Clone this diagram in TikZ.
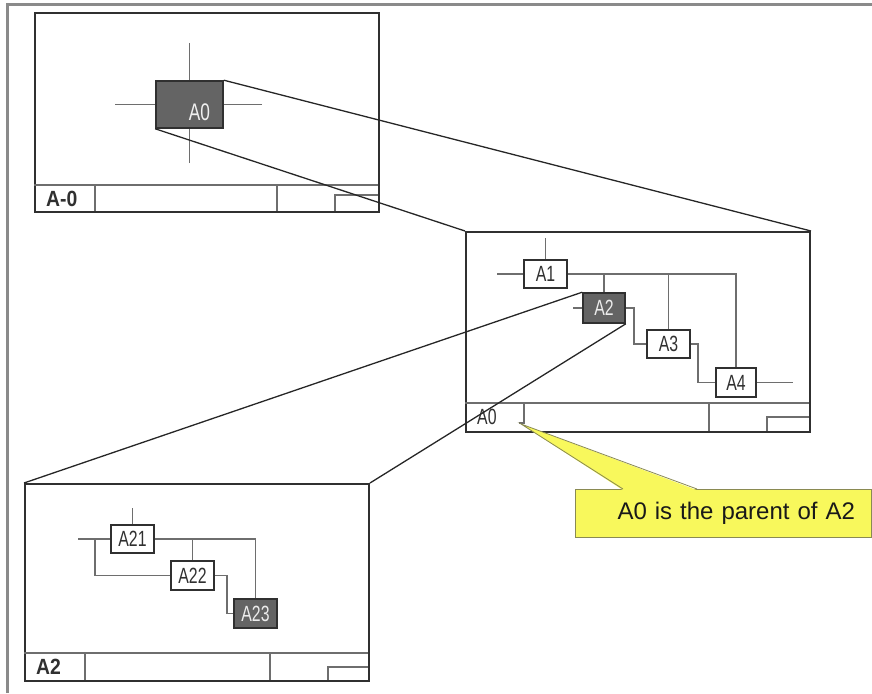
\documentclass[tikz,border=0pt]{standalone}
\usepackage{fontspec}
\setmainfont{Liberation Sans}
\newfontfamily\boxfont[FakeStretch=0.72]{Liberation Sans}
\newfontfamily\titlefont[FakeStretch=0.88]{Liberation Sans}
\usetikzlibrary{positioning,calc}

\definecolor{framegray}{HTML}{8A8A8A}
\definecolor{inkdark}{HTML}{303030}
\definecolor{linegray}{HTML}{6E6E6E}
\definecolor{actfill}{HTML}{646464}
\definecolor{notefill}{HTML}{F8F85C}
\definecolor{noteedge}{HTML}{8A8A52}

\tikzset{
  idef/sheet/.style={draw=inkdark, line width=2pt, anchor=north west, inner sep=0pt},
  idef/act/.style={draw=inkdark, line width=1.6pt, fill=white, text=inkdark, inner sep=0pt,
    minimum width=43pt, minimum height=28pt, font=\boxfont\fontsize{22}{22}\selectfont},
  idef/parent/.style={idef/act, fill=actfill, text=white!85!gray},
  idef/plabel/.style={text=white!88!gray, inner sep=0pt, font=\boxfont\fontsize{24}{24}\selectfont},
  idef/arrow/.style={draw=linegray, line width=1.4pt},
  idef/rule/.style={draw=linegray, line width=1.6pt},
  idef/zoom/.style={draw=black!85, line width=1.3pt},
  idef/title/.style={anchor=west, inner sep=0pt, text=inkdark, font=\titlefont\bfseries\fontsize{22}{22}\selectfont},
  idef/note/.style={draw=noteedge, fill=notefill, line width=0.8pt, outer sep=0pt, text=black!90,
    minimum height=48pt, text width=264pt, inner xsep=16pt, inner ysep=0pt, align=right,
    font=\fontsize{24}{28}\selectfont},
  idef/noteline/.style={draw=noteedge, line width=0.8pt}
}

\begin{document}
\begin{tikzpicture}[x=1pt, y=-1pt]
  \useasboundingbox (0,0) rectangle (872,693);
  % outer frame
  \draw[framegray, line width=3pt] (7.5,693) -- (7.5,5) -- (872,5);

  % context sheet A-0
  \node[idef/sheet, minimum width=344pt, minimum height=199pt] (sheetA0) at (34,12) {};
  \draw[idef/rule] (34,185) -- (378,185) (95,185) -- (95,211) (277,185) -- (277,211);
  \draw[idef/rule] (335,211) |- (378,195);
  \node[idef/title] at (46,198.5) {A-0};

  \node[idef/parent, minimum width=67pt, minimum height=47pt,
        label={[idef/plabel, xshift=10pt, yshift=-8pt]center:A0}] (a0) at (189.5,104.5) {};
  \coordinate (a0up) at (189.5,43);
  \coordinate (a0dn) at (189.5,163);
  \coordinate (a0lt) at (115,104.5);
  \coordinate (a0rt) at (262,104.5);
  \draw[idef/arrow] (a0up) -- (a0.north);
  \draw[idef/arrow] (a0dn) -- (a0.south);
  \draw[idef/arrow] (a0lt) -- (a0.west);
  \draw[idef/arrow] (a0rt) -- (a0.east);

  % sheet A0
  \node[idef/sheet, minimum width=344pt, minimum height=200pt] (sheetA1) at (465,231) {};
  \draw[idef/rule] (465,403) -- (809,403) (709,403) -- (709,431);
  \draw[idef/rule] (767,431) |- (809,417);
  \draw[idef/rule] (524,403) -- (524,423) -- (519,423);
  \node[idef/title, font=\boxfont\fontsize{22}{22}\selectfont] at (477,417) {A0};

  \node[idef/act] (a1) at (545.5,274) {A1};
  \node[idef/parent, minimum width=42pt, minimum height=30pt] (a2) at (604,308) {A2};
  \node[idef/act] (a3) at (668.5,344) {A3};
  \node[idef/act, minimum width=40pt, minimum height=29pt] (a4) at (736,382.5) {A4};

  \coordinate (a1ctl) at (545.5,238);
  \coordinate (a1in) at (497,274);
  \coordinate (a2in) at (573,308);
  \coordinate (a4out) at (793,382.5);
  \draw[idef/arrow] (a1ctl) -- (a1.north);
  \draw[idef/arrow] (a1in) -- (a1.west);
  \draw[idef/arrow] (a1.east) -| (a4.north);
  \draw[idef/arrow] (a2.north |- a1.east) -- (a2.north);
  \draw[idef/arrow] (a3.north |- a1.east) -- (a3.north);
  \draw[idef/arrow] (a2in) -- (a2.west);
  \draw[idef/arrow] (a2.east) -- ++(8,0) |- (a3.west);
  \draw[idef/arrow] (a3.east) -- ++(7,0) |- (a4.west);
  \draw[idef/arrow] (a4.east) -- (a4out);

  % sheet A2
  \node[idef/sheet, minimum width=344pt, minimum height=197pt] (sheetA2) at (24,483) {};
  \draw[idef/rule] (24,653) -- (368,653) (85,653) -- (85,680) (270,653) -- (270,680);
  \draw[idef/rule] (328,680) |- (368,667);
  \node[idef/title] at (36,667) {A2};

  \node[idef/act] (a21) at (132.5,539) {A21};
  \node[idef/act, minimum height=29pt] (a22) at (192.5,575.5) {A22};
  \node[idef/parent, minimum height=29pt] (a23) at (255.5,613.5) {A23};

  \coordinate (a21ctl) at (132.5,508);
  \coordinate (a21in) at (78,539);
  \coordinate (a21tap) at (95,539);
  \draw[idef/arrow] (a21ctl) -- (a21.north);
  \draw[idef/arrow] (a21in) -- (a21.west);
  \draw[idef/arrow] (a21tap) |- (a22.west);
  \draw[idef/arrow] (a21.east) -| (a23.north);
  \draw[idef/arrow] (a22.north |- a21.east) -- (a22.north);
  \draw[idef/arrow] (a22.east) -- ++(12,0) |- (a23.west);

  % decomposition lines
  \draw[idef/zoom] (a0.north east) -- (sheetA1.north east);
  \draw[idef/zoom] (a0.south west) -- (sheetA1.north west);
  \draw[idef/zoom] (a2.north west) -- (sheetA2.north west);
  \draw[idef/zoom] (a2.south east) -- (sheetA2.north east);

  % callout
  \node[idef/note, anchor=north west] (note) at (575,489) {A0 is the parent of A2};
  \coordinate (notetip) at (521,424);
  \fill[notefill] ([xshift=48pt, yshift=-1.2pt]note.north west) -- (notetip)
    -- ([xshift=122pt, yshift=-1.2pt]note.north west) -- cycle;
  \draw[idef/noteline] ([xshift=48pt]note.north west) -- (notetip) -- ([xshift=122pt]note.north west);
\end{tikzpicture}
\end{document}
